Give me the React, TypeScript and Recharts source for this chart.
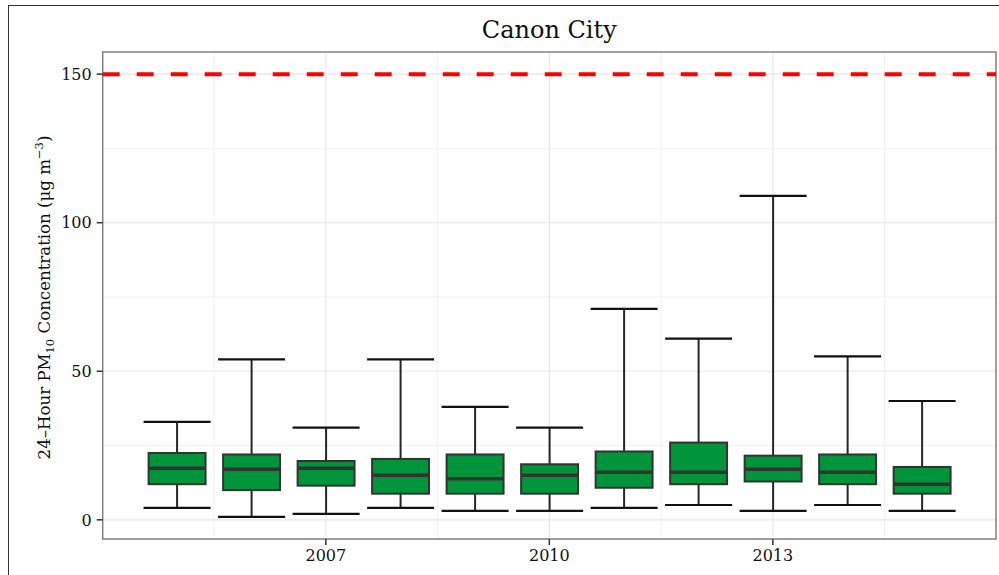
import React from "react";
import {
  ComposedChart,
  Bar,
  XAxis,
  YAxis,
  CartesianGrid,
  ReferenceLine,
  ReferenceArea,
  Label,
} from "recharts";

// ---- data ----
const YEARS = [2005, 2006, 2007, 2008, 2009, 2010, 2011, 2012, 2013, 2014, 2015];
const WHISKER_LOW = [4, 1, 2, 4, 3, 3, 4, 5, 3, 5, 3];
const Q1 = [12, 10, 11.5, 8.8, 8.8, 8.8, 10.8, 12, 12.9, 12, 8.8];
const MEDIAN = [17.4, 17, 17.4, 15, 13.8, 15, 16, 16, 17, 16, 12];
const Q3 = [22.5, 22, 19.8, 20.5, 22, 18.7, 23, 26, 21.6, 22, 17.8];
const WHISKER_HIGH = [33, 54, 31, 54, 38, 31, 71, 61, 109, 55, 40];

const Y_TICKS = [0, 50, 100, 150];
const Y_MINOR = [25, 75, 125];
const X_TICKS = [2007, 2010, 2013];
const X_MINOR = [2005.5, 2008.5, 2011.5, 2014.5];
const STANDARD = 150;
const X_DOMAIN = [2004.005, 2015.995];
const Y_DOMAIN = [-6.45, 157.45];

const TITLE = "Canon City";

const data = YEARS.map((year, i) => ({
  year,
  lo: WHISKER_LOW[i],
  q1: Q1[i],
  med: MEDIAN[i],
  q3: Q3[i],
  hi: WHISKER_HIGH[i],
}));

const FONT = "'DejaVu Serif', serif";

function BoxShape(props: any) {
  const { x, y, width, height, payload } = props;
  if (x == null || y == null || !payload) return null;
  const top = Math.min(y, y + height);
  const h = Math.abs(height);
  const span = payload.hi - payload.lo;
  const ppu = h / span;
  const toY = (v: number) => top + (payload.hi - v) * ppu;
  const cx = x + width / 2;
  const bw = width * 0.85;
  const bx = cx - bw / 2;
  const yq3 = toY(payload.q3);
  const yq1 = toY(payload.q1);
  const ym = toY(payload.med);
  return (
    <g>
      <line x1={cx} x2={cx} y1={top} y2={top + h} stroke="#262626" strokeWidth={2} />
      <line x1={x} x2={x + width} y1={top} y2={top} stroke="#111" strokeWidth={2.2} />
      <line x1={x} x2={x + width} y1={top + h} y2={top + h} stroke="#111" strokeWidth={2.2} />
      <rect x={bx} y={yq3} width={bw} height={yq1 - yq3} fill="#00953a" stroke="#333" strokeWidth={2} />
      <line x1={bx} x2={bx + bw} y1={ym} y2={ym} stroke="#333" strokeWidth={3.5} />
    </g>
  );
}

function YLabel(props: any) {
  const vb = props.viewBox || { x: 0, y: 52, width: 102, height: 487 };
  const cy = vb.y + vb.height / 2 + 2;
  const cx = 50;
  return (
    <text
      x={cx}
      y={cy}
      transform={`rotate(-90, ${cx}, ${cy})`}
      textAnchor="middle"
      fontFamily={FONT}
      fontSize={16.6}
      fill="#111"
    >
      <tspan>24–Hour PM</tspan>
      <tspan fontSize={11.5} dy={4}>10</tspan>
      <tspan dy={-4}> Concentration (μg m</tspan>
      <tspan fontSize={11.5} dy={-7}>−3</tspan>
      <tspan dy={7}>)</tspan>
    </text>
  );
}

export default function App() {
  return (
    <div
      style={{
        position: "absolute",
        left: 0,
        top: 0,
        width: 999,
        height: 575,
        overflow: "hidden",
        background: "#fff",
      }}
    >
      <div
        style={{
          position: "absolute",
          left: 8,
          top: 4.5,
          width: 1100,
          height: 700,
          borderLeft: "1.5px solid #333",
          borderTop: "1.5px solid #333",
          boxSizing: "border-box",
        }}
      />
      <div style={{ position: "absolute", left: 0, top: 0 }}>
        <ComposedChart
          width={999}
          height={575}
          data={data}
          margin={{ top: 52, right: 3, bottom: 0, left: 0 }}
        >
          <CartesianGrid
            horizontalValues={Y_MINOR}
            verticalValues={X_MINOR}
            stroke="#f2f2f2"
            strokeWidth={1}
          />
          <CartesianGrid
            horizontalValues={Y_TICKS}
            verticalValues={X_TICKS}
            stroke="#e8e8e8"
            strokeWidth={1.2}
          />
          <XAxis
            dataKey="year"
            type="number"
            domain={X_DOMAIN}
            allowDataOverflow
            ticks={X_TICKS}
            height={36}
            axisLine={false}
            tickSize={6}
            tickMargin={5}
            tickLine={{ stroke: "#333", strokeWidth: 1.5 }}
            tick={{ fontFamily: FONT, fontSize: 16, fill: "#111" }}
          />
          <YAxis
            type="number"
            domain={Y_DOMAIN}
            allowDataOverflow
            ticks={Y_TICKS}
            width={102.7}
            axisLine={false}
            tickSize={6}
            tickMargin={5}
            tickLine={{ stroke: "#333", strokeWidth: 1.5 }}
            tick={{ fontFamily: FONT, fontSize: 16, fill: "#111" }}
          >
            <Label content={<YLabel />} />
          </YAxis>
          <ReferenceArea
            x1={X_DOMAIN[0]}
            x2={X_DOMAIN[1]}
            y1={Y_DOMAIN[0]}
            y2={Y_DOMAIN[1]}
            fill="none"
            fillOpacity={0}
            stroke="#808080"
            strokeWidth={1.5}
          />
          <ReferenceLine
            y={STANDARD}
            stroke="#ff0000"
            strokeWidth={4}
            strokeDasharray="17 17"
          />
          <Bar
            dataKey={(d: any) => [d.lo, d.hi]}
            barSize={67}
            shape={<BoxShape />}
            isAnimationActive={false}
          />
        </ComposedChart>
      </div>
      <svg
        width={999}
        height={575}
        style={{ position: "absolute", left: 0, top: 0, pointerEvents: "none" }}
      >
        <text
          x={549.3}
          y={38}
          textAnchor="middle"
          fontFamily={FONT}
          fontSize={24}
          fill="#111"
        >
          {TITLE}
        </text>
      </svg>
    </div>
  );
}
